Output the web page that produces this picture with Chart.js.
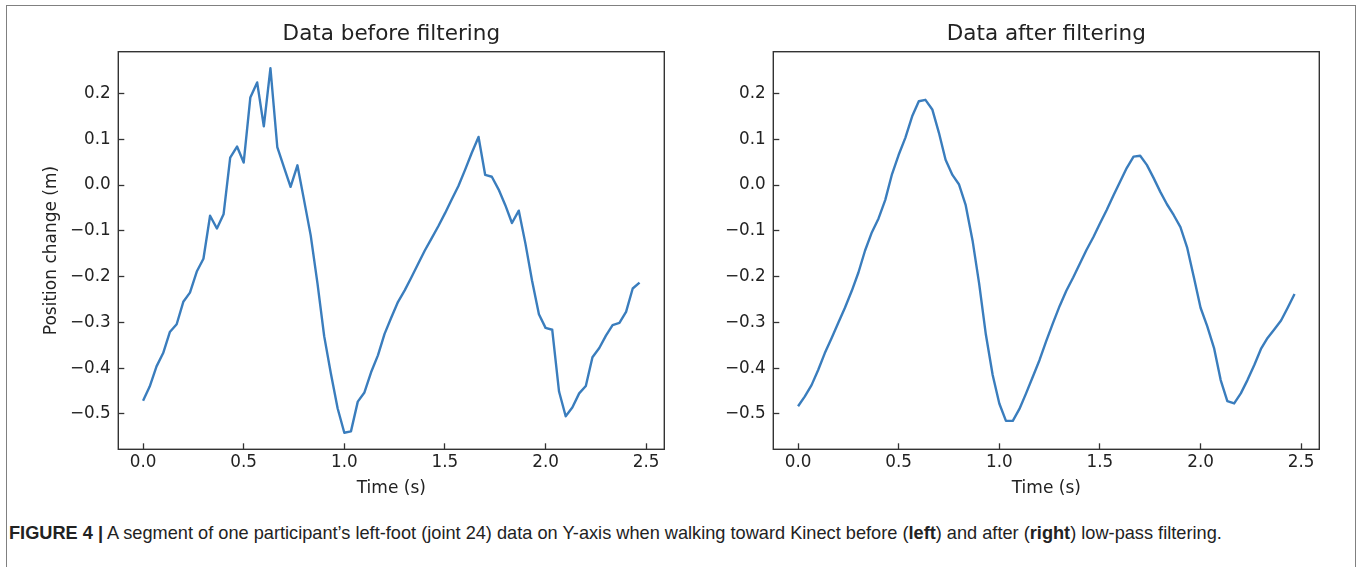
<!DOCTYPE html>
<html>
<head>
<meta charset="utf-8">
<script src="https://cdn.jsdelivr.net/npm/chart.js@4.4.1/dist/chart.umd.min.js"></script>
<style>
    body { margin: 0; background: #fff; width: 1358px; height: 567px; overflow: hidden; position: relative; }
    #frame { position: absolute; left: 6px; top: 5px; width: 1348px; height: 600px;
             border: 1.5px solid #808080; border-bottom: none; }
    #leftCanvas { position: absolute; left: 0; top: 0; }
    #rightCanvas { position: absolute; left: 680px; top: 0; }
    #caption { position: absolute; left: 9px; top: 523px; font-family: "Liberation Sans", Arial, sans-serif;
               font-size: 18.2px; line-height: 21px; color: #222; white-space: nowrap; }
</style>
</head>
<body>
<div id="frame"></div>
<canvas id="leftCanvas" width="680" height="500"></canvas>
<canvas id="rightCanvas" width="678" height="500"></canvas>
<div id="caption"><b>FIGURE 4 |</b> A segment of one participant’s left-foot (joint 24) data on Y-axis when walking toward Kinect before (<b>left</b>) and after (<b>right</b>) low-pass filtering.</div>
<script>
// time axis (s), 30 samples per second
const timeS = [
    0.000, 0.033, 0.067, 0.100, 0.133, 0.167, 0.200, 0.233, 0.267, 0.300,
    0.333, 0.367, 0.400, 0.433, 0.467, 0.500, 0.533, 0.567, 0.600, 0.633,
    0.667, 0.700, 0.733, 0.767, 0.800, 0.833, 0.867, 0.900, 0.933, 0.967,
    1.000, 1.033, 1.067, 1.100, 1.133, 1.167, 1.200, 1.233, 1.267, 1.300,
    1.333, 1.367, 1.400, 1.433, 1.467, 1.500, 1.533, 1.567, 1.600, 1.633,
    1.667, 1.700, 1.733, 1.767, 1.800, 1.833, 1.867, 1.900, 1.933, 1.967,
    2.000, 2.033, 2.067, 2.100, 2.133, 2.167, 2.200, 2.233, 2.267, 2.300,
    2.333, 2.367, 2.400, 2.433, 2.467
];

// position change (m) before filtering
const rawPosition = [
    -0.471, -0.440, -0.396, -0.367, -0.321, -0.304, -0.255, -0.235, -0.189, -0.161,
    -0.067, -0.095, -0.064, 0.060, 0.084, 0.049, 0.191, 0.224, 0.128, 0.255,
    0.083, 0.039, -0.004, 0.043, -0.033, -0.110, -0.216, -0.330, -0.411, -0.488,
    -0.541, -0.538, -0.473, -0.453, -0.409, -0.372, -0.325, -0.290, -0.255, -0.230,
    -0.202, -0.172, -0.143, -0.117, -0.090, -0.062, -0.032, -0.002, 0.033, 0.070,
    0.105, 0.022, 0.018, -0.010, -0.044, -0.083, -0.056, -0.128, -0.209, -0.282,
    -0.312, -0.316, -0.451, -0.505, -0.486, -0.455, -0.439, -0.376, -0.356, -0.329,
    -0.306, -0.301, -0.277, -0.226, -0.213
];

// position change (m) after low-pass filtering
const filteredPosition = [
    -0.483, -0.462, -0.437, -0.404, -0.367, -0.334, -0.301, -0.268, -0.231, -0.191,
    -0.143, -0.103, -0.073, -0.033, 0.024, 0.066, 0.103, 0.150, 0.183, 0.186,
    0.165, 0.114, 0.055, 0.022, 0.001, -0.044, -0.121, -0.216, -0.326, -0.415,
    -0.477, -0.515, -0.515, -0.489, -0.455, -0.418, -0.382, -0.341, -0.301, -0.264,
    -0.231, -0.202, -0.172, -0.142, -0.114, -0.084, -0.055, -0.023, 0.007, 0.037,
    0.062, 0.064, 0.044, 0.015, -0.015, -0.042, -0.066, -0.092, -0.136, -0.202,
    -0.268, -0.308, -0.356, -0.426, -0.472, -0.477, -0.455, -0.426, -0.393, -0.358,
    -0.334, -0.315, -0.296, -0.268, -0.238
];

const FONT = 'DejaVu Sans';
const INK = '#222';
const SPINE = '#333';

// matplotlib-style box around the axes
const framePlugin = {
    id: 'frame',
    afterDraw(chart) {
        const { ctx, chartArea: a } = chart;
        ctx.save();
        ctx.strokeStyle = SPINE;
        ctx.lineWidth = 1.4;
        ctx.strokeRect(a.left, a.top, a.right - a.left, a.bottom - a.top);
        ctx.restore();
    }
};

function fmtTick(v) {
    const r = Math.round(v * 10) / 10;
    return (r < 0 ? '\u2212' : '') + Math.abs(r).toFixed(1);
}

function makeChart(canvas, title, values, yAxisWidth, padRight, showYTitle) {
    return new Chart(canvas, {
        type: 'line',
        data: {
            datasets: [{
                data: timeS.map((t, i) => ({ x: t, y: values[i] })),
                borderColor: '#3a7dbd',
                borderWidth: 2.4,
                borderJoinStyle: 'round',
                pointRadius: 0,
                tension: 0,
                fill: false
            }]
        },
        options: {
            responsive: false,
            animation: false,
            layout: { padding: { left: 0, right: padRight, top: 0, bottom: 0 } },
            plugins: {
                legend: { display: false },
                tooltip: { enabled: false },
                title: {
                    display: true,
                    text: title,
                    fullSize: false,
                    color: INK,
                    font: { family: FONT, size: 21.5, weight: 'normal' },
                    padding: { top: 21.7, bottom: 4.2 }
                }
            },
            scales: {
                x: {
                    type: 'linear',
                    min: -0.123,
                    max: 2.59,
                    border: { display: false },
                    grid: { display: true, drawOnChartArea: false, drawTicks: true, tickLength: -6, tickWidth: 1.3, tickColor: SPINE },
                    ticks: {
                        stepSize: 0.5,
                        includeBounds: false,
                        padding: 9.5,
                        color: INK,
                        font: { family: FONT, size: 16.8 },
                        maxRotation: 0,
                        callback: v => fmtTick(v)
                    },
                    title: {
                        display: true,
                        text: 'Time (s)',
                        color: INK,
                        font: { family: FONT, size: 17 },
                        padding: { top: 0, bottom: 1.6 }
                    },
                    afterFit: s => { s.height = 50.7; }
                },
                y: {
                    min: -0.5771,
                    max: 0.2911,
                    border: { display: false },
                    grid: { display: true, drawOnChartArea: false, drawTicks: true, tickLength: -6, tickWidth: 1.3, tickColor: SPINE },
                    ticks: {
                        stepSize: 0.1,
                        includeBounds: false,
                        padding: 13.6,
                        color: INK,
                        font: { family: FONT, size: 16.8 },
                        callback: v => fmtTick(v)
                    },
                    title: {
                        display: showYTitle,
                        text: 'Position change (m)',
                        color: INK,
                        font: { family: FONT, size: 17 },
                        padding: { top: 41.8, bottom: 0 }
                    },
                    afterFit: s => { s.width = yAxisWidth; }
                }
            }
        },
        plugins: [framePlugin]
    });
}

makeChart(document.getElementById('leftCanvas'), 'Data before filtering', rawPosition, 118.3, 15.7, true);
makeChart(document.getElementById('rightCanvas'), 'Data after filtering', filteredPosition, 93.3, 38.7, false);
</script>
</body>
</html>
